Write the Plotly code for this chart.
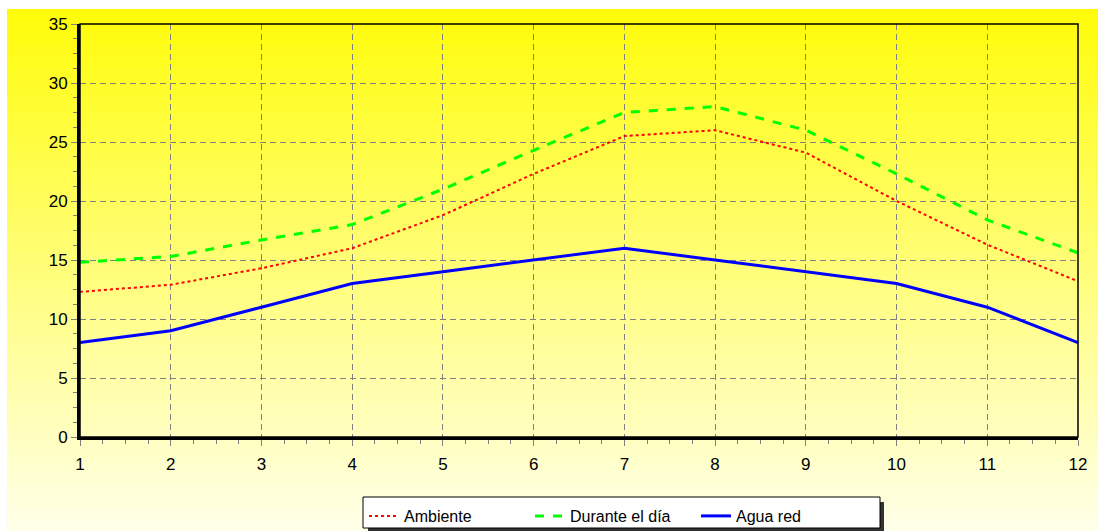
import plotly.graph_objects as go

months = [1, 2, 3, 4, 5, 6, 7, 8, 9, 10, 11, 12]
ambiente = [12.3, 12.9, 14.3, 16.0, 18.8, 22.3, 25.5, 26.0, 24.1, 20.0, 16.3, 13.2]
durante_dia = [14.8, 15.3, 16.7, 18.0, 21.0, 24.3, 27.5, 28.0, 26.0, 22.3, 18.4, 15.6]
agua_red = [8, 9, 11, 13, 14, 15, 16, 15, 14, 13, 11, 8]
y_ticks = [0, 5, 10, 15, 20, 25, 30, 35]

W, H = 1098, 531
L, R, T, B = 80, 20, 24, 94
pw, ph = W - L - R, H - T - B

def px_x(px):
    return (px - L) / pw

def px_y(py):
    return (H - B - py) / ph

fig = go.Figure()
fig.add_trace(go.Scatter(x=months, y=ambiente, mode="lines", name="Ambiente",
                         line=dict(color="#FF0000", width=2, dash="dot")))
fig.add_trace(go.Scatter(x=months, y=durante_dia, mode="lines", name="Durante el día",
                         line=dict(color="#00FF00", width=3, dash="dash")))
fig.add_trace(go.Scatter(x=months, y=agua_red, mode="lines", name="Agua red",
                         line=dict(color="#0000FF", width=3)))

shapes = []
top_px, bot_px = 9, 531
n = 90
c0 = (255, 252, 10)
c1 = (255, 255, 232)
for i in range(n):
    f = i / (n - 1)
    y0p = top_px + (bot_px - top_px) * i / n
    y1p = top_px + (bot_px - top_px) * (i + 1) / n + 1
    col = tuple(int(round(c0[k] + (c1[k] - c0[k]) * f)) for k in range(3))
    shapes.append(dict(type="rect", xref="paper", yref="paper",
                       x0=px_x(7), x1=px_x(1099), y0=px_y(min(y1p, bot_px + 2)), y1=px_y(y0p),
                       fillcolor="rgb(%d,%d,%d)" % col, line=dict(width=0), layer="below"))
shapes.append(dict(type="rect", xref="paper", yref="paper", x0=0, x1=1, y0=0, y1=1,
                   line=dict(color="black", width=1.5), layer="above"))
shapes.append(dict(type="rect", xref="paper", yref="paper",
                   x0=px_x(368), x1=px_x(884), y0=px_y(532), y1=px_y(502),
                   fillcolor="#333333", line=dict(width=0), layer="above"))
shapes.append(dict(type="rect", xref="paper", yref="paper",
                   x0=px_x(363), x1=px_x(880), y0=px_y(528), y1=px_y(497),
                   fillcolor="white", line=dict(color="black", width=1), layer="above"))

axis_common = dict(
    showgrid=True, gridcolor="#808080", griddash="6px,4px", gridwidth=1.3,
    showline=True, linecolor="black", linewidth=3,
    ticks="outside", ticklen=6, tickcolor="#808080", tickwidth=1.3,
    zeroline=False, fixedrange=True, tickfont=dict(size=17),
)

fig.update_layout(
    width=W, height=H,
    margin=dict(l=L, r=R, t=T, b=B, autoexpand=False),
    paper_bgcolor="white",
    plot_bgcolor="rgba(0,0,0,0)",
    font=dict(family="Liberation Sans, Arial, sans-serif", size=16, color="black"),
    shapes=shapes,
    showlegend=True,
    legend=dict(orientation="h", x=px_x(364), y=px_y(499), xanchor="left", yanchor="top",
                bgcolor="rgba(0,0,0,0)", borderwidth=0,
                font=dict(size=16), entrywidth=121, entrywidthmode="pixels",
                itemwidth=30, tracegroupgap=0),
    xaxis=dict(range=[1, 12], tickmode="array", tickvals=months, ticklabelstandoff=4,
               minor=dict(dtick=0.25, ticks="outside", ticklen=4, tickcolor="#808080", showgrid=False),
               **axis_common),
    yaxis=dict(range=[0, 35], tickmode="array", tickvals=y_ticks,
               minor=dict(dtick=1.25, ticks="outside", ticklen=4, tickcolor="#808080", showgrid=False),
               **axis_common),
)

fig.write_html(
    "out.html",
    config={"displayModeBar": False},
    post_script="document.body.style.margin='0';document.body.style.overflow='hidden';"
                "document.documentElement.style.overflow='hidden';",
)
